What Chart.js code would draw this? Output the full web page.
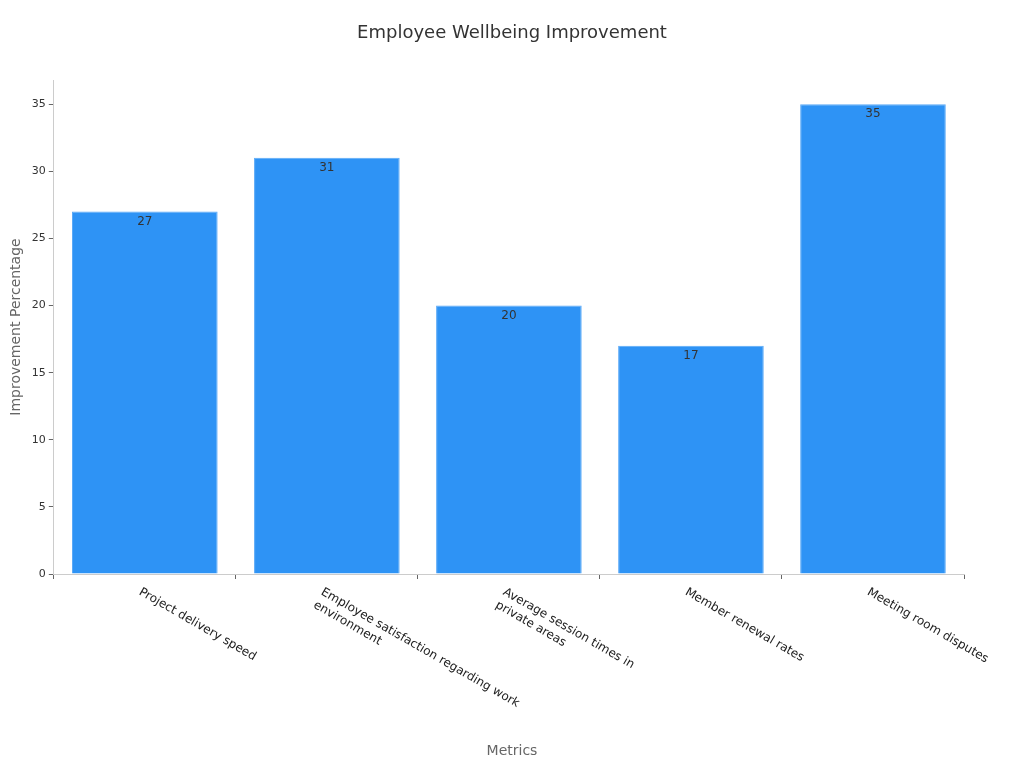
<!DOCTYPE html>
<html><head><meta charset="utf-8">
<script src="https://cdn.jsdelivr.net/npm/chart.js@4/dist/chart.umd.min.js"></script>
<style>html,body{margin:0;background:#fff}#w{width:1024px;height:768px}</style>
</head><body><div id="w"><canvas id="c"></canvas></div>
<script>
const categories = [["Project delivery speed"],["Employee satisfaction regarding work","environment"],["Average session times in","private areas"],["Member renewal rates"],["Meeting room disputes"]];
const values = [27,31,20,17,35];
const yTicks = [0,5,10,15,20,25,30,35];
const F = "'DejaVu Sans', sans-serif";
const labelPlugin = {
  id:'lbl',
  afterDatasetsDraw(chart){
    const ctx=chart.ctx, x=chart.scales.x, y=chart.scales.y;
    ctx.save();
    ctx.font="18px "+F; ctx.fillStyle="#333"; ctx.textAlign="center"; ctx.textBaseline="middle";
    ctx.fillText('Employee Wellbeing Improvement', 512, 33);
    ctx.font="12px "+F; ctx.fillStyle="#333"; ctx.textAlign="center"; ctx.textBaseline="top";
    chart.getDatasetMeta(0).data.forEach((b,i)=>{ctx.fillText(values[i], b.x, b.y+4);});
    ctx.fillStyle="#222"; ctx.textAlign="left"; ctx.textBaseline="top";
    categories.forEach((lines,i)=>{
      const px=x.getPixelForValue(i);
      ctx.save(); ctx.translate(px-2, y.bottom+12); ctx.rotate(Math.PI/6);
      lines.forEach((l,j)=>ctx.fillText(l,0,j*15));
      ctx.restore();
    });
    ctx.restore();
  }
};
new Chart(document.getElementById('c'),{
  type:'bar',
  data:{labels:categories.map(c=>c.join(' ')),datasets:[{data:values,backgroundColor:'#2e93f5',borderColor:'#5aa9f7',borderWidth:1,barPercentage:1,categoryPercentage:0.8}]},
  options:{responsive:true,maintainAspectRatio:false,animation:false,
    layout:{padding:{left:4,right:60,top:80,bottom:8}},
    plugins:{legend:{display:false},tooltip:{enabled:false},title:{display:false}},
    scales:{
      x:{grid:{display:true,drawOnChartArea:false,tickLength:5,color:'#666'},border:{color:'#ccc'},
        ticks:{display:true,color:'rgba(0,0,0,0)',font:{size:12},padding:0,maxRotation:0,callback:()=>' '},
        afterFit:(s)=>{s.height=186;},
        title:{display:false}},
      y:{min:0,max:36.8,afterBuildTicks:(s)=>{s.ticks=yTicks.map(v=>({value:v}));},
        grid:{display:true,drawOnChartArea:false,tickLength:5,color:'#666'},border:{color:'#ccc'},
        ticks:{color:'#333',font:{family:F,size:11}},
        title:{display:true,text:'Improvement Percentage',color:'#666',font:{family:F,size:14}}}
    }},
  plugins:[labelPlugin,{id:'xt',afterDraw(c){const ctx=c.ctx;ctx.save();ctx.font="14px "+F;ctx.fillStyle="#666";ctx.textAlign="center";ctx.textBaseline="middle";ctx.fillText('Metrics',512,751);ctx.restore();}}]
});
</script></body></html>
